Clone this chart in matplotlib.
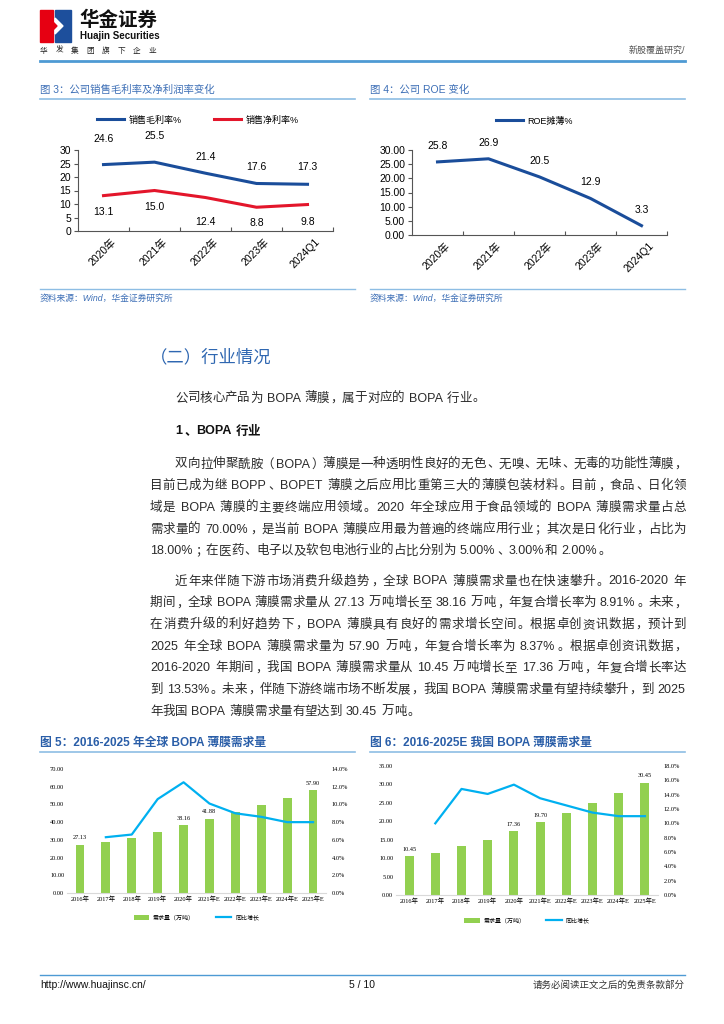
import re
import numpy as np
import matplotlib
matplotlib.use('Agg')
import matplotlib.pyplot as plt
import matplotlib.transforms as mtrans
from matplotlib.patches import Rectangle, Polygon

plt.rcParams['font.family'] = ['Liberation Sans', 'Noto Sans CJK SC']
plt.rcParams['axes.unicode_minus'] = False

# ---- data ----
years3 = ['2020年', '2021年', '2022年', '2023年', '2024Q1']
gross_margin = [24.6, 25.5, 21.4, 17.6, 17.3]
net_margin = [13.1, 15.0, 12.4, 8.8, 9.8]
roe = [25.8, 26.9, 20.5, 12.9, 3.3]

years10 = ['2016年', '2017年', '2018年', '2019年', '2020年',
           '2021年E', '2022年E', '2023年E', '2024年E', '2025年E']
global_demand = [27.13, 28.9, 31.0, 34.3, 38.16, 41.88, 46.0, 49.7, 53.8, 57.90]
global_growth = [np.nan, 6.3, 6.6, 10.6, 12.5, 10.1, 9.0, 8.6, 8.0, 8.0]
china_demand = [10.45, 11.45, 13.2, 14.9, 17.36, 19.70, 22.2, 24.9, 27.6, 30.45]
china_growth = [np.nan, 10.0, 14.8, 14.1, 15.4, 13.5, 12.5, 11.5, 11.0, 11.0]
labelled_bars = [0, 4, 5, 9]

para1 = ['双向拉伸聚酰胺（BOPA）薄膜是一种透明性良好的无色、无嗅、无味、无毒的功能性薄膜，',
         '目前已成为继 BOPP、BOPET 薄膜之后应用比重第三大的薄膜包装材料。目前，食品、日化领',
         '域是 BOPA 薄膜的主要终端应用领域。2020 年全球应用于食品领域的 BOPA 薄膜需求量占总',
         '需求量的 70.00%，是当前 BOPA 薄膜应用最为普遍的终端应用行业；其次是日化行业，占比为',
         '18.00%；在医药、电子以及软包电池行业的占比分别为 5.00%、3.00%和 2.00%。']
para2 = ['近年来伴随下游市场消费升级趋势，全球 BOPA 薄膜需求量也在快速攀升。2016-2020 年',
         '期间，全球 BOPA 薄膜需求量从 27.13 万吨增长至 38.16 万吨，年复合增长率为 8.91%。未来，',
         '在消费升级的利好趋势下，BOPA 薄膜具有良好的需求增长空间。根据卓创资讯数据，预计到',
         '2025 年全球 BOPA 薄膜需求量为 57.90 万吨，年复合增长率为 8.37%。根据卓创资讯数据，',
         '2016-2020 年期间，我国 BOPA 薄膜需求量从 10.45 万吨增长至 17.36 万吨，年复合增长率达',
         '到 13.53%。未来，伴随下游终端市场不断发展，我国 BOPA 薄膜需求量有望持续攀升，到 2025',
         '年我国 BOPA 薄膜需求量有望达到 30.45 万吨。']

BLUE_T = '#3d6fb6'
LINE_B = '#4e9ad4'
LIGHT_B = '#8dbde4'
serif = ['Liberation Serif', 'Noto Sans CJK SC']

W, H = 724, 1024
fig = plt.figure(figsize=(7.24, 10.24), dpi=100)
page = fig.add_axes([0, 0, 1, 1])
page.set_xlim(0, W); page.set_ylim(H, 0); page.axis('off')
r = fig.canvas.get_renderer()


def rect(x0, y0, x1, y1):
    return [x0 / W, 1 - y1 / H, (x1 - x0) / W, (y1 - y0) / H]


def put_line(x0, y, s, right=None, size=9, color='#2a2a2a', **kw):
    # lay out a line token by token, spread to the right margin if asked
    em = size * 100 / 72
    yb = y + 0.36 * em
    toks = re.findall(r'[A-Za-z0-9.%/:\-]+| |.', s)
    items = []
    for t in toks:
        if t == ' ':
            items.append((None, 0.28 * em, t))
        elif re.match(r'[A-Za-z0-9.%/:\-]', t):
            o = page.text(x0, yb, t, fontsize=size, va='baseline', ha='left', color=color, **kw)
            items.append((o, o.get_window_extent(r).width + 0.08 * em, t))
        else:
            o = page.text(x0, yb, t, fontsize=size, va='baseline', ha='center', color=color, **kw)
            items.append((o, em, t))
    gap = 0
    if right is not None and len(items) > 1:
        gap = (right - x0 - sum(w for _, w, _ in items)) / (len(items) - 1)
    x = x0
    for o, w, t in items:
        if o is not None:
            if o.get_ha() == 'left':
                o.set_x(x + 0.04 * em)
            elif t in '，。、；：':
                o.set_ha('left'); o.set_x(x + 0.1 * em)
            elif t == '（':
                o.set_ha('right'); o.set_x(x + 0.92 * em)
            elif t == '）':
                o.set_ha('left'); o.set_x(x + 0.08 * em)
            else:
                o.set_x(x + w / 2)
        x += w + gap


# ---- header ----
page.add_patch(Rectangle((40, 10), 13, 32, color='#e60012'))
page.add_patch(Rectangle((55, 10), 16, 32, color='#1d4f9c'))
page.add_patch(Polygon([[55, 18], [63, 26], [55, 34]], color='white'))
page.add_patch(Polygon([[53, 22], [57, 26], [53, 30]], color='#e60012'))
page.text(79, 20, '华金证券', fontsize=14, fontweight='bold', va='center', ha='left', color='#111')
page.text(80, 36, 'Huajin Securities', fontsize=7, fontweight='bold', va='center', ha='left', color='#111')
for i, ch in enumerate('华发集团旗下企业'):
    page.text(40 + i * 15.5, 53, ch, fontsize=5.5, va='baseline', ha='left', color='#222')
page.text(685, 50, '新股覆盖研究/', fontsize=6.5, va='center', ha='right', color='#555')
page.plot([40, 685], [61, 61], color=LINE_B, lw=2)

# ---- figure titles / separators ----
page.text(40, 90, '图 3：公司销售毛利率及净利润率变化', fontsize=7.5, va='center', color=BLUE_T)
page.text(370, 90, '图 4：公司 ROE 变化', fontsize=7.5, va='center', color=BLUE_T)
for xa, xb in [(40, 355), (370, 685)]:
    page.plot([xa, xb], [98.5, 98.5], color=LIGHT_B, lw=1.2)
    page.plot([xa, xb], [289, 289], color=LIGHT_B, lw=1.0)
    page.text(xa, 298, '资料来源：Wind，华金证券研究所', fontsize=6.3, style='italic',
              va='center', color=BLUE_T)

off = mtrans.ScaledTranslation(5 / 72, 0, fig.dpi_scale_trans)


def line_axes(ax, ylim, step, fmt):
    for s in ['top', 'right']:
        ax.spines[s].set_visible(False)
    for s in ['left', 'bottom']:
        ax.spines[s].set_color('#555555'); ax.spines[s].set_linewidth(0.8)
    ax.set_ylim(0, ylim)
    ax.set_yticks(np.arange(0, ylim + 0.1, step))
    ax.set_yticklabels([fmt.format(v) for v in np.arange(0, ylim + 0.1, step)])
    ax.set_xlim(-0.5, 4.5)
    ax.set_xticks(np.arange(0.5, 5, 1))
    ax.set_xticklabels([])
    ax.set_xticks(np.arange(5), minor=True)
    ax.set_xticklabels(years3, minor=True, rotation=45, ha='right', va='top', rotation_mode='anchor')
    ax.tick_params(axis='x', which='major', direction='in', length=3, color='#555555')
    ax.tick_params(axis='x', which='minor', length=0, pad=4, labelsize=7.5)
    ax.tick_params(axis='y', direction='out', length=3, pad=2, labelsize=7.5, color='#555555')
    for lab in ax.get_xticklabels(minor=True):
        lab.set_transform(lab.get_transform() + off)


# ---- figure 3 ----
ax3 = fig.add_axes(rect(78, 150, 333, 231))
x5 = np.arange(len(years3))
ax3.plot(x5, gross_margin, color='#1a4d9a', lw=2.2, label='销售毛利率%')
ax3.plot(x5, net_margin, color='#e3162b', lw=2.2, label='销售净利率%')
gm_dy = [26, 26, 16, 16, 17]
nm_dy = [-16, -17, -24, -16, -17]
for i, v in enumerate(gross_margin):
    ax3.annotate(f'{v:.1f}', (i, v), xytext=(0, gm_dy[i]), textcoords='offset pixels',
                 ha='center', va='center', fontsize=7.5)
for i, v in enumerate(net_margin):
    ax3.annotate(f'{v:.1f}', (i, v), xytext=(0, nm_dy[i]), textcoords='offset pixels',
                 ha='center', va='center', fontsize=7.5)
line_axes(ax3, 30, 5, '{:.0f}')
ax3.legend(loc='center', bbox_to_anchor=(0.47, 1.37), ncol=2, frameon=False, fontsize=6.5,
           handlelength=3.0, columnspacing=3.5, handletextpad=0.5)

# ---- figure 4 ----
ax4 = fig.add_axes(rect(412, 150, 667, 235))
ax4.plot(x5, roe, color='#1a4d9a', lw=2.2, label='ROE摊薄%')
for i, v in enumerate(roe):
    ax4.annotate(f'{v:.1f}', (i, v), xytext=(0, 16), textcoords='offset pixels',
                 ha='center', va='center', fontsize=7.5)
line_axes(ax4, 30, 5, '{:.2f}')
ax4.legend(loc='center', bbox_to_anchor=(0.48, 1.34), frameon=False, fontsize=6.5,
           handlelength=3.0, handletextpad=0.5)

# ---- body text ----
page.text(150, 357, '（二）行业情况', fontsize=12.5, va='center', ha='left', color='#2f67b1')
put_line(175, 397, '公司核心产品为 BOPA 薄膜，属于对应的 BOPA 行业。')
put_line(175, 430, '1、BOPA 行业', fontweight='bold', color='#111')
for k, ln in enumerate(para1):
    x0 = 175 if k == 0 else 150
    put_line(x0, 463 + k * 21.7, ln, right=None if k == len(para1) - 1 else 686)
for k, ln in enumerate(para2):
    x0 = 175 if k == 0 else 150
    put_line(x0, 580 + k * 21.7, ln, right=None if k == len(para2) - 1 else 686)

# ---- figures 5 / 6 ----
page.text(40, 743, '图 5：2016-2025 年全球 BOPA 薄膜需求量', fontsize=8.5, fontweight='bold',
          va='center', color='#2a5ea8')
page.text(370, 743, '图 6：2016-2025E 我国 BOPA 薄膜需求量', fontsize=8.5, fontweight='bold',
          va='center', color='#2a5ea8')
page.plot([40, 355], [751.5, 751.5], color=LIGHT_B, lw=1.2)
page.plot([370, 685], [751.5, 751.5], color=LIGHT_B, lw=1.2)


def bar_chart(box, demand, growth, ymax, ystep, gmax):
    ax = fig.add_axes(rect(*box))
    xi = np.arange(len(years10))
    bars = ax.bar(xi, demand, width=0.34, color='#92d050', label='需求量（万吨）')
    for i in labelled_bars:
        ax.annotate(f'{demand[i]:.2f}', (i, demand[i]), xytext=(0, 7), textcoords='offset pixels',
                    ha='center', va='center', fontsize=4.5, family=serif)
    ax.set_ylim(0, ymax)
    yt = np.arange(0, ymax + 0.1, ystep)
    ax.set_yticks(yt)
    ax.set_yticklabels([f'{v:.2f}' for v in yt], family=serif)
    ax.set_xlim(-0.5, len(years10) - 0.5)
    ax.set_xticks(xi)
    ax.set_xticklabels(years10, family=serif)
    for s in ['top', 'right', 'left']:
        ax.spines[s].set_visible(False)
    ax.spines['bottom'].set_color('#d9d9d9')
    ax.tick_params(length=0, labelsize=4.6, pad=2)
    tw = ax.twinx()
    ln, = tw.plot(xi, growth, color='#00b0f0', lw=1.6, label='同比增长')
    tw.set_ylim(0, gmax)
    gt = np.arange(0, gmax + 0.1, 2)
    tw.set_yticks(gt)
    tw.set_yticklabels([f'{v:.1f}%' for v in gt], family=serif)
    for s in ['top', 'right', 'left', 'bottom']:
        tw.spines[s].set_visible(False)
    tw.tick_params(length=0, labelsize=4.6, pad=4)
    ax.legend([bars, ln], ['需求量（万吨）', '同比增长'], loc='center', bbox_to_anchor=(0.5, -0.2),
              ncol=2, frameon=False, fontsize=4.3, handlelength=2.6, handleheight=0.8,
              columnspacing=3.5, handletextpad=0.6)


bar_chart((67, 769, 326, 893), global_demand, global_growth, 70, 10, 14)
bar_chart((396, 766, 658, 895), china_demand, china_growth, 35, 5, 18)

# ---- footer ----
page.plot([40, 685], [975, 975], color=LINE_B, lw=1)
page.text(40, 985, 'http://www.huajinsc.cn/', fontsize=7.5, va='center', ha='left', color='#111')
page.text(362, 985, '5 / 10', fontsize=7.5, va='center', ha='center', color='#111')
page.text(685, 985, '请务必阅读正文之后的免责条款部分', fontsize=6.8, va='center', ha='right', color='#333')

fig.savefig('out.png', dpi=100)
